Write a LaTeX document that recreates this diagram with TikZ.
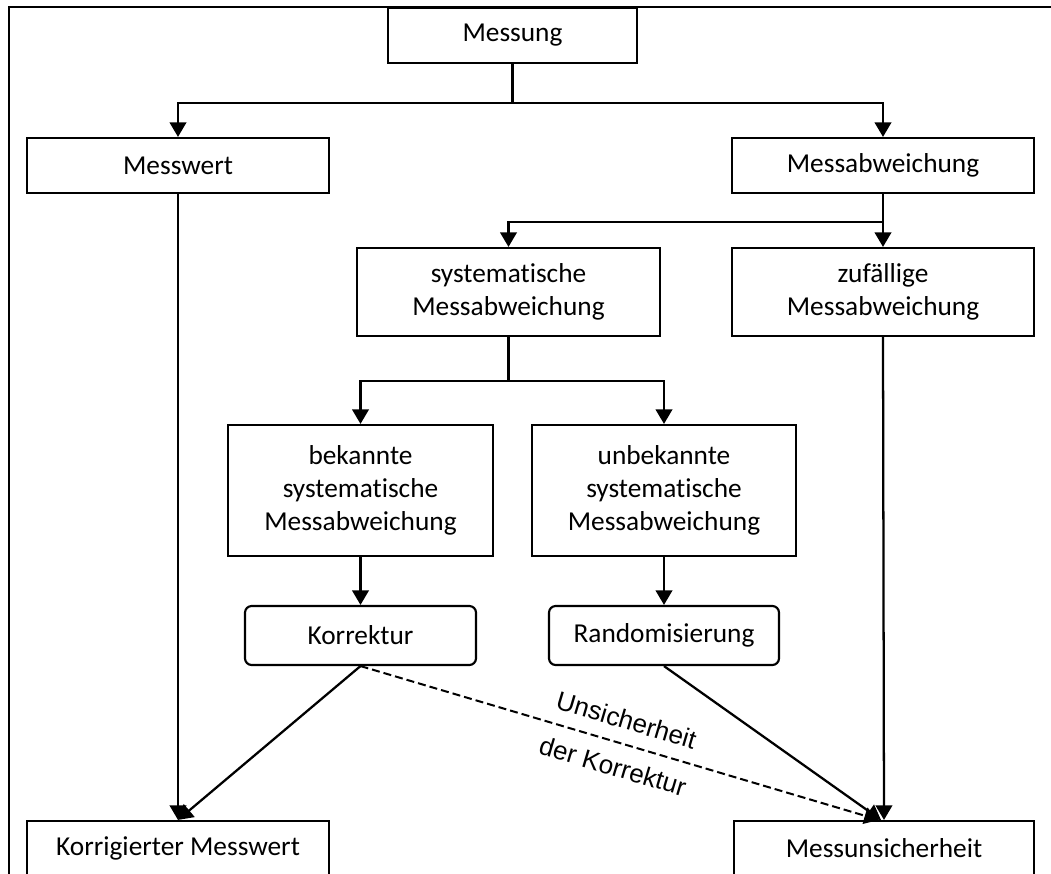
\documentclass[tikz,border=0pt]{standalone}
\usepackage{fontspec}
\setmainfont{Carlito}[Ligatures=NoCommon]
\newfontfamily\labelfont{Liberation Sans}
\usetikzlibrary{arrows.meta,calc}
\begin{document}
\begin{tikzpicture}[x=0.75pt,y=-0.75pt,
  box/.style={draw, line width=1.6pt, align=center, inner sep=2pt,
    font=\fontsize{20.5}{24.5}\selectfont},
  roundbox/.style={box, rounded corners=5pt},
  line/.style={line width=1.7pt},
  arrow/.style={line width=1.7pt, -{Triangle[length=11pt,width=12.5pt]}},
  dasharrow/.style={arrow, line width=1.5pt, dash pattern=on 6pt off 3pt}]
\useasboundingbox (0,0) rectangle (1051,874);

% outer frame (open at the bottom and right)
\draw[line width=1.6pt] (9,890) -- (9,7) -- (1070,7);

% boxes
\node[box, minimum width=186.75pt, minimum height=41.25pt] (messung) at (512.5,35.5) {Messung};
\node[box, minimum width=226.5pt, minimum height=41.25pt] (messwert) at (178,165.5) {Messwert};
\node[box, minimum width=226.5pt, minimum height=41.25pt] (abw) at (883,165.5) {Messabweichung};
\node[box, minimum width=227.25pt, minimum height=66pt] (sys) at (508.5,292) {systematische\\Messabweichung};
\node[box, minimum width=226.5pt, minimum height=66pt] (zuf) at (883,292) {zufällige\\Messabweichung};
\node[box, minimum width=198.75pt, minimum height=98.25pt] (bek) at (360.5,490.5) {bekannte\\systematische\\Messabweichung};
\node[box, minimum width=198pt, minimum height=98.25pt] (unbek) at (664,490.5) {unbekannte\\systematische\\Messabweichung};
\node[roundbox, minimum width=173.25pt, minimum height=44.25pt] (korr) at (360.5,635.5) {Korrektur};
\node[roundbox, minimum width=172.5pt, minimum height=44.25pt] (rand) at (664,635.5) {Randomisierung};
\node[box, minimum width=226.5pt, minimum height=41.25pt] (korrmw) at (178,848.5) {Korrigierter Messwert};
\node[box, minimum width=225pt, minimum height=41.25pt] (mu) at (884,848.5) {Messunsicherheit};

% branch points
\coordinate (split1) at (512.5,103);
\coordinate (split2) at (883,222);
\coordinate (split3) at (508.5,381);

% tree connectors
\draw[line] (messung.south) -- (split1);
\draw[arrow] (split1) -| (messwert.north);
\draw[arrow] (split1) -| (abw.north);

\draw[line] (abw.south) -- (split2);
\draw[arrow] (split2) -| (sys.north);
\draw[arrow] (abw.south) -- (zuf.north);

\draw[line] (sys.south) -- (split3);
\draw[arrow] (split3) -| (bek.north);
\draw[arrow] (split3) -| (unbek.north);

\draw[arrow] (bek.south) -- (korr.north);
\draw[arrow] (unbek.south) -- (rand.north);

% results
\draw[arrow] (messwert.south) -- (korrmw.north);
\draw[arrow] (korr.south) -- (korrmw.north);
\draw[dasharrow] (korr.south) -- ($(mu.north)+(-5,0)$)
  node[midway, sloped, align=center, font=\labelfont\fontsize{19.5}{23}\selectfont]
  {Unsicherheit\\[13pt]der Korrektur};
\draw[arrow] (rand.south) -- ($(mu.north)+(-3,0)$);
\draw[arrow] (zuf.south) -- (mu.north);
\end{tikzpicture}
\end{document}
